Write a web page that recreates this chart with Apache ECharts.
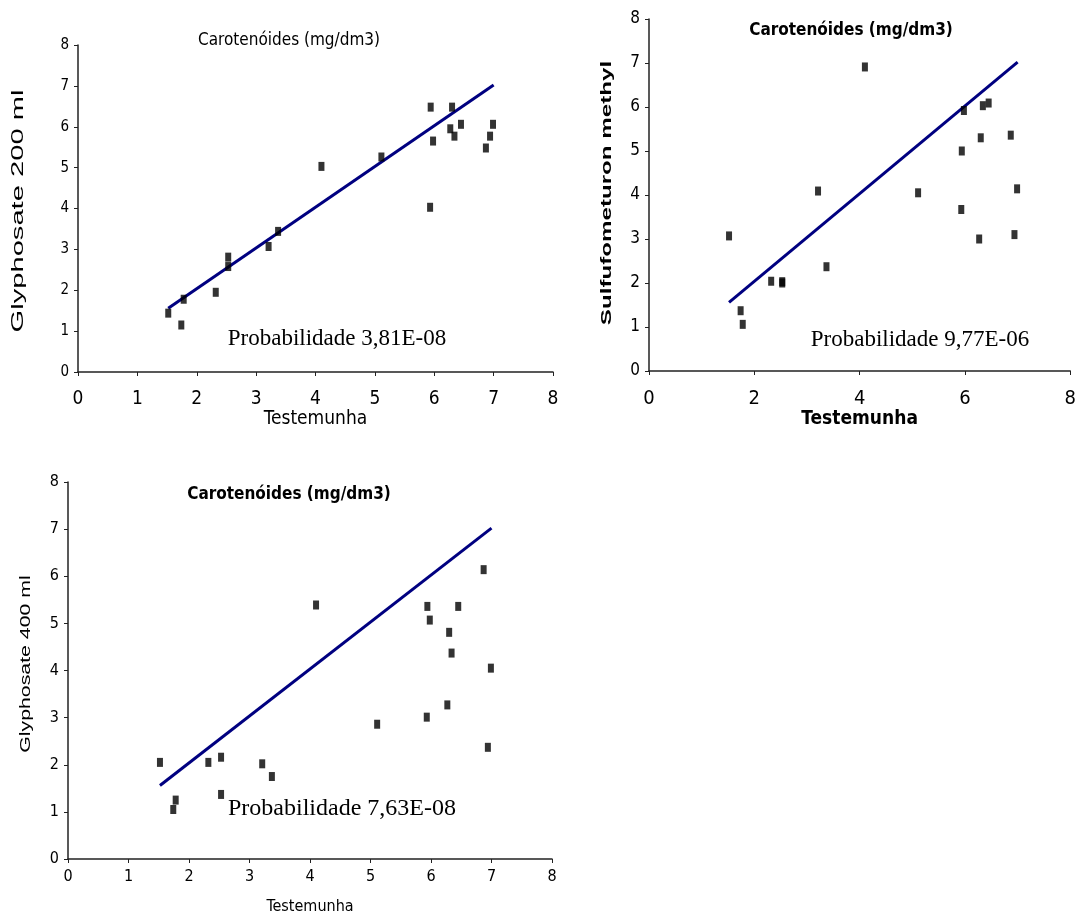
<!DOCTYPE html>
<html>
<head>
<meta charset="utf-8">
<script src="https://cdn.jsdelivr.net/npm/echarts@6/dist/echarts.min.js"></script>
<style>
  html, body { margin: 0; padding: 0; background: #fff; }
  #chart { width: 1079px; height: 923px; }
</style>
</head>
<body>
<div id="chart"></div>
<script>
// Testemunha (controle) e respostas de cada tratamento
var testemunha   = [1.52, 1.74, 1.78, 2.32, 2.53, 2.53, 3.21, 3.37, 4.10, 5.11, 5.93, 5.94, 5.98, 6.27, 6.30, 6.34, 6.45, 6.87, 6.94, 6.99];
var glyphosate200 = [1.44, 1.15, 1.78, 1.95, 2.81, 2.58, 3.07, 3.44, 5.03, 5.26, 4.03, 6.48, 5.65, 5.95, 6.48, 5.77, 6.06, 5.48, 5.77, 6.06];
var sulfometuron  = [3.07, 1.37, 1.06, 2.04, 2.03, 2.00, 4.09, 2.37, 6.91, 4.05, 3.67, 5.00, 5.92, 3.00, 5.30, 6.03, 6.09, 5.36, 3.10, 4.14];
var glyphosate400 = [2.05, 1.05, 1.25, 2.05, 2.16, 1.37, 2.02, 1.75, 5.39, 2.86, 3.01, 5.36, 5.07, 3.27, 4.81, 4.37, 5.36, 6.14, 2.37, 4.05];

// linha de tendencia (1:1)
var lineX = [1.52, 7.0];
var lineY = [1.56, 7.02];

var titulo = 'Carotenóides (mg/dm3)';
var probabilidades = ['Probabilidade 3,81E-08', 'Probabilidade 9,77E-06', 'Probabilidade 7,63E-08'];
var nomesY = ['Glyphosate 200 ml', 'Sulfufometuron methyl', 'Glyphosate 400 ml'];

var narrow = '"Liberation Sans Narrow", "Arial Narrow", "DejaVu Sans Condensed", sans-serif';

function pares(xs, ys) {
  return xs.map(function (x, i) { return [x, ys[i]]; });
}

function eixoX(idx, interval, fontSize, margin, bold) {
  return {
    gridIndex: idx, type: 'value', min: 0, max: 8, interval: interval,
    name: 'Testemunha', nameLocation: 'middle', nameGap: idx === 2 ? 40 : 38,
    nameTextStyle: { fontFamily: narrow, fontSize: idx === 2 ? 16 : 19, color: '#000', fontWeight: bold ? 'bold' : 'normal' },
    axisLine: { show: true, onZero: false, lineStyle: { color: '#222', width: 1.5 } },
    axisTick: { show: true, length: 4, lineStyle: { color: '#222' } },
    splitLine: { show: false },
    axisLabel: { fontFamily: narrow, fontSize: fontSize, color: '#000', margin: margin }
  };
}

function eixoY(idx, fontSize) {
  return {
    gridIndex: idx, type: 'value', min: 0, max: 8, interval: 1,
    axisLine: { show: true, onZero: false, lineStyle: { color: '#222', width: 1.5 } },
    axisTick: { show: true, length: 4, lineStyle: { color: '#222' } },
    splitLine: { show: false },
    axisLabel: { fontFamily: narrow, fontSize: fontSize, color: '#000', margin: 9 }
  };
}

function pontos(idx, ys) {
  return {
    type: 'scatter', xAxisIndex: idx, yAxisIndex: idx, z: 3,
    symbol: 'rect', symbolSize: [6, 9],
    itemStyle: { color: '#000' },
    data: pares(testemunha, ys)
  };
}

function tendencia(idx) {
  return {
    type: 'line', xAxisIndex: idx, yAxisIndex: idx, z: 2,
    showSymbol: false, symbol: 'none',
    lineStyle: { color: '#000080', width: 3 },
    data: pares(lineX, lineY)
  };
}

function texto(x, y, t, font, extra) {
  var el = {
    type: 'text', x: x, y: y,
    style: { text: t, font: font, fill: '#000', align: 'center', verticalAlign: 'middle' }
  };
  for (var k in extra) el[k] = extra[k];
  return el;
}

var chart = echarts.init(document.getElementById('chart'));
chart.setOption({
  animation: false,
  backgroundColor: '#fff',
  grid: [
    { left: 78, top: 45, width: 475, height: 327 },
    { left: 649, top: 19, width: 427, height: 352 },
    { left: 68, top: 482, width: 484, height: 377 }
  ],
  xAxis: [
    eixoX(0, 1, 19, 18, false),
    eixoX(1, 2, 20, 18, true),
    eixoX(2, 1, 16, 10, false)
  ],
  yAxis: [
    eixoY(0, 15),
    eixoY(1, 17),
    eixoY(2, 16)
  ],
  series: [
    tendencia(0), pontos(0, glyphosate200),
    tendencia(1), pontos(1, sulfometuron),
    tendencia(2), pontos(2, glyphosate400)
  ],
  graphic: [
    texto(289, 41, titulo, '17px ' + narrow),
    texto(851, 31, titulo, 'bold 17px ' + narrow),
    texto(289, 495, titulo, 'bold 17px ' + narrow),
    texto(337, 339, probabilidades[0], '23px "Liberation Serif", "Times New Roman", serif'),
    texto(920, 340, probabilidades[1], '23px "Liberation Serif", "Times New Roman", serif'),
    texto(342, 809, probabilidades[2], '24px "Liberation Serif", "Times New Roman", serif'),
    texto(19, 211, nomesY[0], '16px "Liberation Sans", Arial, sans-serif', { rotation: Math.PI / 2, scaleX: 1.82 }),
    texto(607, 193, nomesY[1], 'bold 15px "Liberation Sans", Arial, sans-serif', { rotation: Math.PI / 2, scaleX: 1.61 }),
    texto(26, 664, nomesY[2], '14px "Liberation Sans", Arial, sans-serif', { rotation: Math.PI / 2, scaleX: 1.52 })
  ]
});
</script>
</body>
</html>
